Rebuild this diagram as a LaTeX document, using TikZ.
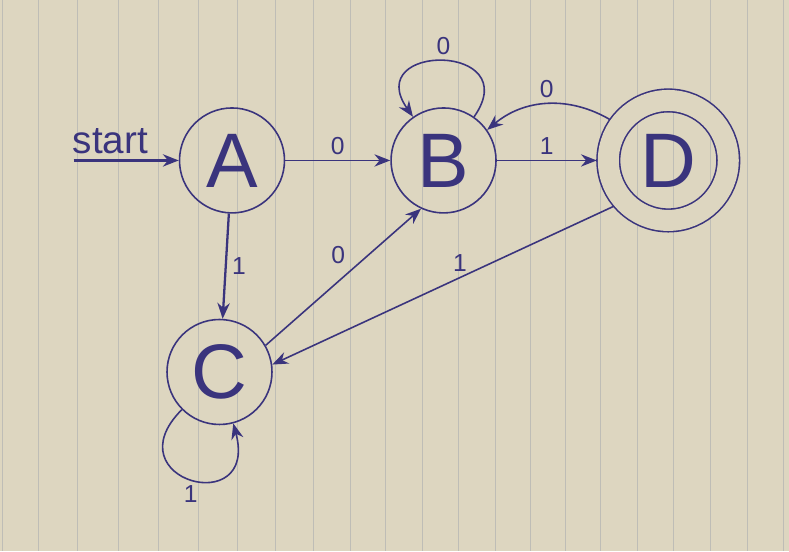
\documentclass[tikz,border=0pt]{standalone}
\usepackage{fontspec}
\setmainfont{Liberation Sans}
\usepackage{xcolor}
\definecolor{tinta}{RGB}{58,52,125}
\definecolor{papel}{RGB}{221,214,192}
\definecolor{rayaGris}{RGB}{190,189,182}
\usepackage{tikz}
\usetikzlibrary{arrows.meta, positioning}

\begin{document}
\begin{tikzpicture}[x=0.02cm, y=-0.02cm,
  est/.style={circle, draw=tinta, line width=0.9pt, minimum size=2.1cm,
              inner sep=0pt, text=tinta, font=\fontsize{44}{44}\selectfont},
  fin/.style={est, double=papel, double distance=0.42cm, minimum size=2.4cm,
              outer sep=0.23cm},
  arr/.style={-{Stealth[length=9pt,width=7pt]}, line width=0.9pt, color=tinta},
  lbl/.style={font=\fontsize{14}{14}\selectfont, text=tinta, inner sep=3pt},
  raya/.style={draw=rayaGris, line width=0.5pt},
  every loop/.style={}
]
  % hoja rayada
  \fill[papel] (0,0) rectangle (789,551);
  \foreach \x in {2,38,77,118,158,198,237,275,313,350,385,422,458,495,530,565,600,637,673,710,747,783}
    \draw[raya] (\x,0) -- (\x,551);
  \useasboundingbox (0,0) rectangle (789,551);

  \node[est] (A) at (232,160) {A};
  \node[est, right=2.1cm of A] (B) {B};
  \node[fin, right=2.0cm of B] (D) {D};
  \node[est, below=2.1cm of A, xshift=-0.25cm] (C) {C};
  \coordinate[left=2.1cm of A] (ini);

  \draw[arr, line width=1.4pt] (ini) -- node[lbl, above, pos=0.35,
        font=\fontsize{22}{22}\selectfont] {start} (A);
  \draw[arr] (A) -- node[lbl, above] {0} (B);
  \draw[arr] (B) -- node[lbl, above] {1} (D);
  \draw[arr] (B) to[loop, out=55, in=125, looseness=3.8] node[lbl, above] {0} (B);
  \draw[arr] (D) to[bend right=35] node[lbl, above] {0} (B);
  \draw[arr, line width=1.3pt] (A) -- node[lbl, right] {1} (C);
  \draw[arr] (C.30) -- node[lbl, above left, pos=0.55] {0} (B.245);
  \draw[arr] (D.220) -- node[lbl, above, pos=0.45] {1} (C.8);
  \draw[arr] (C) to[loop, out=225, in=285, looseness=4.8] node[lbl, below, pos=0.5] {1} (C);
\end{tikzpicture}
\end{document}
